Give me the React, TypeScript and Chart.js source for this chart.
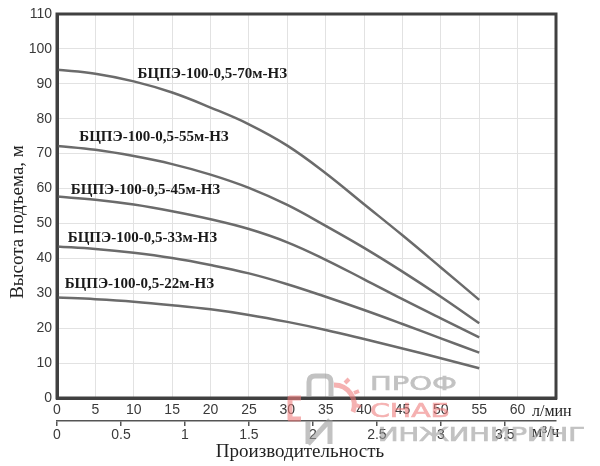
import React, { useEffect, useRef } from "react";
import { Chart, registerables } from "chart.js";

Chart.register(...registerables);

// Flow, l/min
const flowLpm = [0, 5, 10, 15, 20, 25, 30, 35, 40, 45, 50, 55];
// Head, m
const head70 = [94, 92.9, 90.7, 87.5, 83.2, 78.4, 72.3, 64.4, 55.5, 46.6, 37.4, 28.1];
const head55 = [72.2, 71.1, 69.3, 67, 64, 60.2, 55.3, 49.3, 43, 36.2, 29, 21.4];
const head45 = [57.7, 56.8, 55.4, 53.5, 51.2, 48.4, 44.6, 39.6, 34, 28.3, 22.8, 17.4];
const head33 = [43.4, 42.7, 41.6, 40.1, 38.1, 35.7, 32.6, 29, 25.2, 21.2, 17.1, 13];
const head22 = [28.8, 28.3, 27.6, 26.6, 25.4, 23.8, 21.8, 19.5, 16.9, 14.2, 11.4, 8.5];

const seriesNames = [
  "БЦПЭ-100-0,5-70м-НЗ",
  "БЦПЭ-100-0,5-55м-НЗ",
  "БЦПЭ-100-0,5-45м-НЗ",
  "БЦПЭ-100-0,5-33м-НЗ",
  "БЦПЭ-100-0,5-22м-НЗ",
];
// label anchors in data units (flow l/min, head m)
const labelFlow = [10.5, 2.9, 1.8, 1.4, 1.0];
const labelHead = [92.8, 74.8, 59.6, 45.8, 32.7];

const yTitle = "Высота подъема, м";
const xTitle = "Производительность";
const unitLpm = "л/мин";
const unitM3h = "м³/ч";

const FLOW_MAX = 65; // l/min
const HEAD_MAX = 110;
const LPM_PER_M3H = 1000 / 60;

const CURVE_COLOR = "#6b6b6b";
const FRAME_COLOR = "#404040";

export default function App() {
  const ref = useRef<HTMLCanvasElement | null>(null);

  useEffect(() => {
    if (!ref.current) return;
    const allHeads = [head70, head55, head45, head33, head22];

    const textPlugin = {
      id: "texts",
      afterDraw(chart: any) {
        const { ctx, chartArea, scales } = chart;
        ctx.save();
        // frame
        ctx.strokeStyle = FRAME_COLOR;
        ctx.lineWidth = 3;
        ctx.strokeRect(chartArea.left, chartArea.top, chartArea.right - chartArea.left, chartArea.bottom - chartArea.top);

        // curve labels
        ctx.fillStyle = "#1a1a1a";
        ctx.font = 'bold 15px "Liberation Serif"';
        ctx.textAlign = "left";
        ctx.textBaseline = "middle";
        seriesNames.forEach((name, i) => {
          ctx.fillText(name, scales.x.getPixelForValue(labelFlow[i]), scales.y.getPixelForValue(labelHead[i]));
        });

        // units
        ctx.fillStyle = "#222";
        ctx.font = '16px "Liberation Serif"';
        ctx.fillText(unitLpm, 532, 412);
        ctx.fillText(unitM3h, 532, 433);

        // titles
        ctx.font = '19px "Liberation Serif"';
        ctx.textAlign = "center";
        ctx.fillText(xTitle, 300, 452);
        ctx.translate(18, 222);
        ctx.rotate(-Math.PI / 2);
        ctx.fillText(yTitle, 0, 0);
        ctx.restore();
      },
    };

    const chart = new Chart(ref.current, {
      type: "line",
      data: {
        datasets: allHeads.map((h, i) => ({
          label: seriesNames[i],
          data: flowLpm.map((f, j) => ({ x: f, y: h[j] })),
          borderColor: CURVE_COLOR,
          borderWidth: 2.5,
          pointRadius: 0,
          fill: false,
          tension: 0.4,
        })),
      },
      options: {
        animation: false,
        responsive: false,
        layout: { padding: { top: 14, right: 44, left: 0, bottom: 0 } },
        plugins: { legend: { display: false }, tooltip: { enabled: false } },
        scales: {
          x: {
            type: "linear",
            position: "bottom",
            weight: 1,
            min: 0,
            max: FLOW_MAX,
            ticks: {
              stepSize: 5,
              color: "#3a3a3a",
              font: { family: '"Liberation Sans"', size: 14 },
              padding: 4,
              maxRotation: 0,
              callback: (v: any) => (v > 60 ? "" : String(v)),
            },
            grid: { color: "#e2e2e2", lineWidth: 1, drawTicks: false },
            border: { display: true, color: FRAME_COLOR, width: 3 },
            afterFit: (s: any) => {
              s.height = 23;
            },
          },
          x2: {
            type: "linear",
            position: "bottom",
            weight: 2,
            min: 0,
            max: FLOW_MAX / LPM_PER_M3H,
            ticks: {
              stepSize: 0.5,
              includeBounds: false,
              color: "#3a3a3a",
              font: { family: '"Liberation Sans"', size: 14 },
              padding: 1,
              maxRotation: 0,
              callback: (v: any) => String(Math.round(Number(v) * 10) / 10),
            },
            grid: { drawOnChartArea: false, drawTicks: true, tickLength: 5, color: "#555", lineWidth: 1.5 },
            border: { display: true, color: "#555", width: 1.5 },
            afterFit: (s: any) => {
              s.height = 45;
            },
          },
          y: {
            type: "linear",
            min: 0,
            max: HEAD_MAX,
            ticks: {
              stepSize: 10,
              color: "#3a3a3a",
              font: { family: '"Liberation Sans"', size: 14 },
              padding: 5,
            },
            grid: { color: "#e2e2e2", lineWidth: 1, drawTicks: false },
            border: { display: true, color: FRAME_COLOR, width: 3 },
            afterFit: (s: any) => {
              s.width = 57;
            },
          },
        },
      },
      plugins: [textPlugin],
    });
    return () => chart.destroy();
  }, []);

  return (
    <div style={{ position: "absolute", left: 0, top: 0, width: 600, height: 466, background: "#fff" }}>
      <canvas ref={ref} width={600} height={466} style={{ width: 600, height: 466, display: "block" }} />
      <svg
        width={600}
        height={466}
        style={{ position: "absolute", left: 0, top: 0, pointerEvents: "none" }}
      >
        <g opacity={0.6} fill="none" strokeLinejoin="round">
          <path d="M309,397 V382 Q309,376 315,376 H325 Q331,376 331,382 V396" stroke="#9a9a9a" strokeWidth={5} />
          <path d="M308,444 V421 M308,444 L330,420 M330,420 V444" stroke="#9a9a9a" strokeWidth={5} />
          <path d="M301,398 H290 V419 H301" stroke="#ee7d7d" strokeWidth={5} />
          <path d="M334,385 A20,20 0 0 1 353,412" stroke="#ee7d7d" strokeWidth={5} />
          <path d="M345,383 L349,379 M354,393 L359,391 M356,405 L361,407" stroke="#ee7d7d" strokeWidth={4} />
        </g>
        <g fontFamily="DejaVu Sans" opacity={0.6} strokeWidth={0.7}>
          <text x={370} y={390} fontSize={20} textLength={87} lengthAdjust="spacingAndGlyphs" fill="#9a9a9a" stroke="#9a9a9a">ПРОФ</text>
          <text x={370} y={417} fontSize={20} textLength={80} lengthAdjust="spacingAndGlyphs" fill="#ee7d7d" stroke="#ee7d7d">СНАБ</text>
          <text x={378} y={441} fontSize={19} textLength={207} lengthAdjust="spacingAndGlyphs" fill="#9a9a9a" stroke="#9a9a9a">ИНЖИНИРИНГ</text>
        </g>
      </svg>
    </div>
  );
}
